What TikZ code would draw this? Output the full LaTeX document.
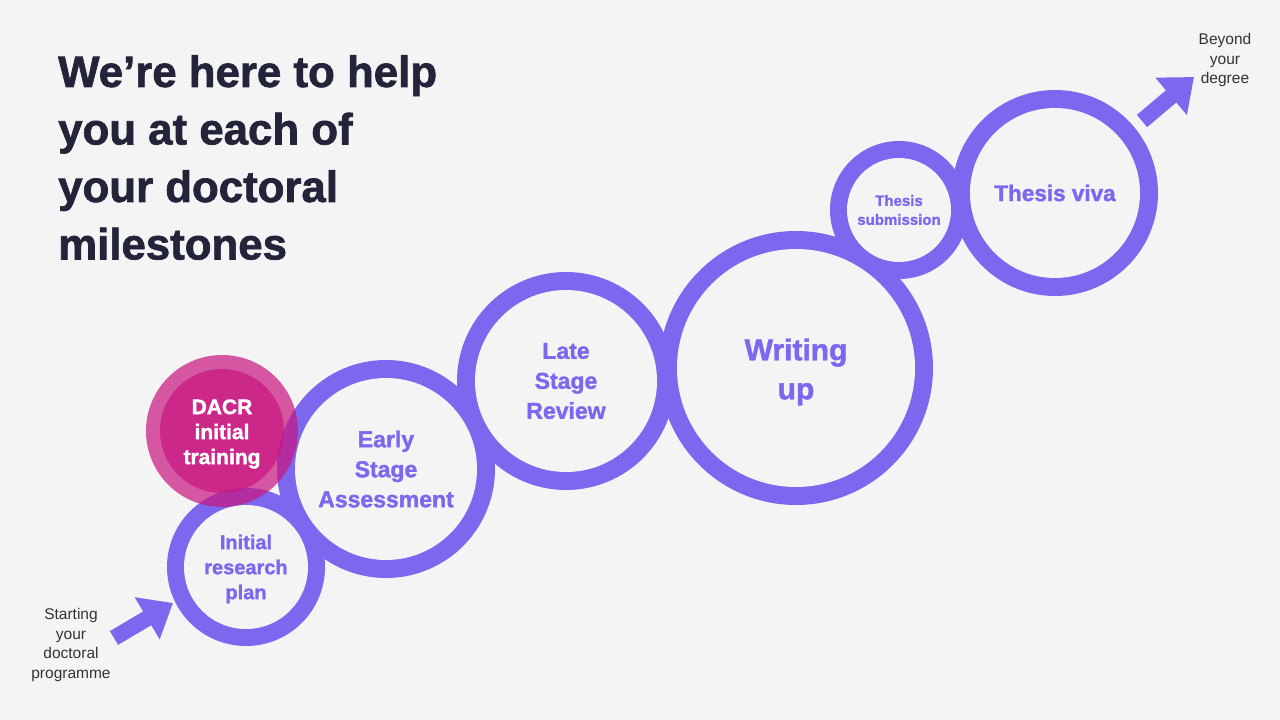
\documentclass[tikz,border=0pt]{standalone}
\usepackage{fontspec}
\setmainfont{Liberation Sans}[BoldFeatures={FakeBold=1.5}]
\usetikzlibrary{arrows.meta}
\definecolor{bg}{HTML}{F4F4F4}
\definecolor{ring}{HTML}{7B68EE}
\definecolor{titlec}{HTML}{23233A}
\definecolor{smallc}{HTML}{333333}
\definecolor{mag}{HTML}{C8157F}
\tikzset{
  ringout/.style={circle, fill=ring, inner sep=0pt, outer sep=0pt},
  ringin/.style={circle, fill=bg, inner sep=0pt, outer sep=0pt},
  ringlabel/.style={inner sep=0pt, text=ring, align=center},
  dacrdisc/.style={circle, fill=mag, fill opacity=0.7, inner sep=0pt, outer sep=0pt},
  dacrlabel/.style={inner sep=0pt, text=white, align=center},
  smalltext/.style={align=center, text=smallc, inner sep=0pt, font=\fontsize{15.5bp}{19.5bp}\selectfont},
  bigarrow/.style={draw=ring, line width=16bp, -{Triangle[length=30bp,width=47bp]}}
}
\begin{document}
\begin{tikzpicture}[x=1bp,y=-1bp]
\fill[bg] (0,0) rectangle (1280,720);
\useasboundingbox (0,0) rectangle (1280,720);

% title
\node[anchor=north west, inner sep=0pt, align=left, text=titlec,
      font=\bfseries\fontsize{43.8bp}{57.5bp}\selectfont] (title) at (58,55)
  {We’re here to help\\you at each of\\your doctoral\\milestones};

% outer discs of the rings
\node[ringout, minimum size=158bp] (irpO) at (246,567) {};
\node[ringout, minimum size=218bp] (esaO) at (386,469) {};
\node[ringout, minimum size=218bp] (lsrO) at (566,381) {};
\node[ringout, minimum size=274bp] (wupO) at (796,368) {};
\node[ringout, minimum size=138bp] (tsuO) at (899,210) {};
\node[ringout, minimum size=206bp] (tviO) at (1055,193) {};

% inner discs
\node[ringin, minimum size=124bp] (irpI) at (246,567) {};
\node[ringin, minimum size=182bp] (esaI) at (386,469) {};
\node[ringin, minimum size=182bp] (lsrI) at (566,381) {};
\node[ringin, minimum size=238bp] (wupI) at (796,368) {};
\node[ringin, minimum size=104bp] (tsuI) at (899,210) {};
\node[ringin, minimum size=170bp] (tviI) at (1055,193) {};

% labels
\node[ringlabel, font=\bfseries\fontsize{20bp}{25bp}\selectfont] (irp) at (246,569) {Initial\\research\\plan};
\node[ringlabel, font=\bfseries\fontsize{23bp}{30bp}\selectfont] (esa) at (386,469) {Early\\Stage\\Assessment};
\node[ringlabel, font=\bfseries\fontsize{23bp}{30bp}\selectfont] (lsr) at (566,381) {Late\\Stage\\Review};
\node[ringlabel, font=\bfseries\fontsize{30bp}{39bp}\selectfont] (wup) at (796,372) {Writing\\up};
\node[ringlabel, font=\bfseries\fontsize{15bp}{19bp}\selectfont] (tsu) at (899,210) {Thesis\\submission};
\node[ringlabel, font=\bfseries\fontsize{22.5bp}{28bp}\selectfont] (tvi) at (1055,193) {Thesis viva};

% DACR
\node[dacrdisc, minimum size=152bp] (dacrO) at (222,431) {};
\node[dacrdisc, minimum size=124bp] (dacrI) at (222,431) {};
\node[dacrlabel, font=\bfseries\fontsize{21bp}{25bp}\selectfont] (dacr) at (222,434) {DACR\\initial\\training};

% side texts
\node[smalltext] (start) at (71,645) {Starting\\your\\doctoral\\programme};
\node[smalltext] (beyond) at (1225,60) {Beyond\\your\\degree};

% arrows
\coordinate (startTail) at (114,638);
\coordinate (startTip) at (173,603);
\coordinate (endTail) at (1142,121);
\coordinate (endTip) at (1194,77);
\draw[bigarrow] (startTail) -- (startTip);
\draw[bigarrow] (endTail) -- (endTip);
\end{tikzpicture}
\end{document}
